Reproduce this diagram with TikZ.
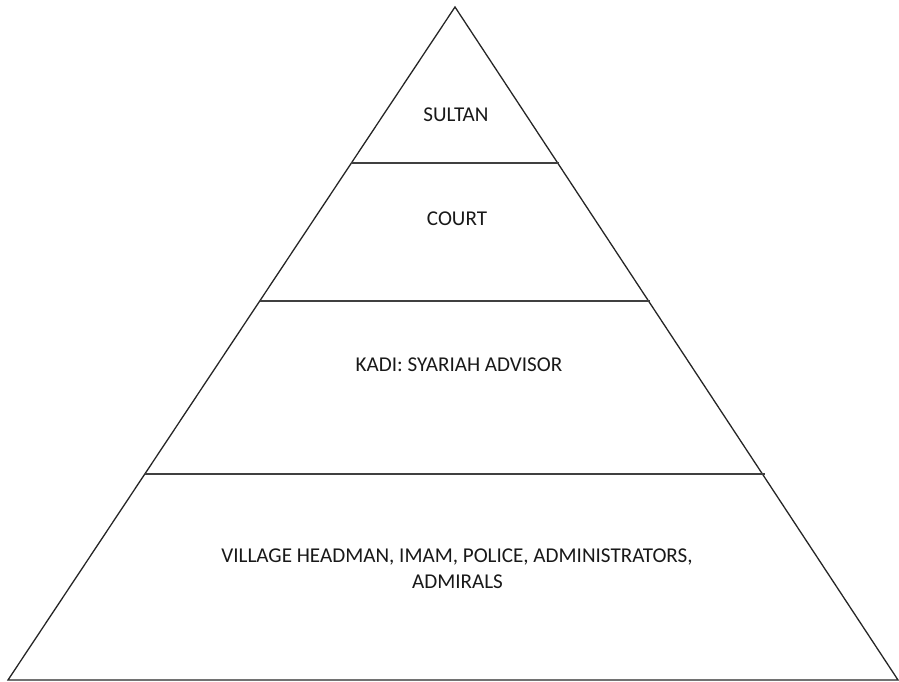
\documentclass[tikz,border=0pt]{standalone}
\usepackage{fontspec}
\setmainfont{Carlito}
\begin{document}
\begin{tikzpicture}[x=1pt,y=-1pt]
      \tikzstyle{level} = [inner sep=0pt, anchor=base, font=\fontsize{21.1}{27}\selectfont, text=black!90]
      \tikzstyle{edge} = [line width=1.3pt, draw=black!85, line join=miter]
      \tikzstyle{divider} = [line width=1.3pt, draw=black!75]

      \useasboundingbox (0,0) rectangle (899,682);

      % pyramid corners
      \coordinate (top) at (455,7);
      \coordinate (bl) at (8,680);
      \coordinate (br) at (898,680);

      % ends of the dividing lines
      \coordinate (d1l) at (351,163);
      \coordinate (d1r) at (559,163);
      \coordinate (d2l) at (260,301);
      \coordinate (d2r) at (650,301);
      \coordinate (d3l) at (145,474);
      \coordinate (d3r) at (765,474);

      \node (sultan) [level] at (456,122) {SULTAN};
      \node (court) [level] at (457,225) {COURT};
      \node (kadi) [level] at (459,371) {KADI: SYARIAH ADVISOR};
      \node (village) [level] at (457,562) {VILLAGE HEADMAN, IMAM, POLICE, ADMINISTRATORS,};
      \node (admirals) [level] at (457.5,588) {ADMIRALS};

      \draw [edge] (top) -- (br) -- (bl) -- cycle;

      \draw [divider] (d1l) -- (d1r);
      \draw [divider] (d2l) -- (d2r);
      \draw [divider] (d3l) -- (d3r);
    \end{tikzpicture}
\end{document}
